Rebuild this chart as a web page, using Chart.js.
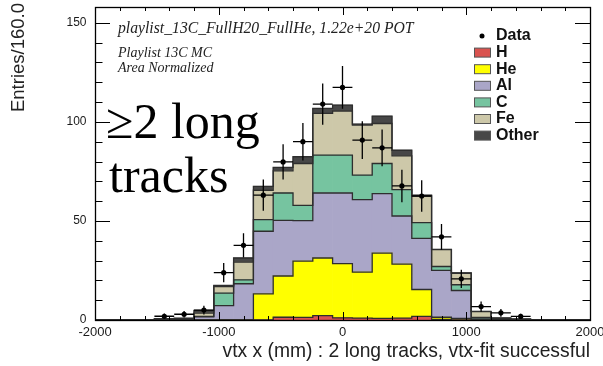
<!DOCTYPE html>
<html>
<head>
<meta charset="utf-8">
<script src="https://cdn.jsdelivr.net/npm/chart.js@4.4.0/dist/chart.umd.min.js"></script>
<style>
  html, body { margin: 0; padding: 0; background: #fff; }
  #wrap { width: 603px; height: 366px; }
</style>
</head>
<body>
<div id="wrap"><canvas id="vtxChart" width="603" height="366"></canvas></div>
<script>
'use strict';

// 25 bins of 160 mm from -2000 to 2000
const BIN_WIDTH = 160;
const BIN_CENTERS = [-1920, -1760, -1600, -1440, -1280, -1120, -960, -800, -640, -480, -320, -160,
  0, 160, 320, 480, 640, 800, 960, 1120, 1280, 1440, 1600, 1760, 1920];

// MC components, area normalized (stacked bottom to top)
const H_VALS     = [0, 0, 0, 0,   0,   0,   0,   0,    0.1,  1.4,  1.3,  2.2,  1.1,  0.9,  0.8,  0.9,  1.8,  0.3,  0.1,  0,   0,   0,   0, 0, 0];
const HE_VALS    = [0, 0, 0, 0,   0,   0,   0,   0,   13.1, 20.8, 28.4, 29.1, 27.4, 23.3, 33.0, 27.3, 13.6,  1.1,  0.7,  0.1, 0,   0,   0, 0, 0];
const AL_VALS    = [0, 0, 0, 0.2, 0.3, 1.6, 7.3, 18.3, 31.6, 28.1, 20.5, 32.8, 35.6, 36.6, 30.0, 24.3, 25.8, 23.6, 14.1,  0.4, 0.3, 0.1, 0, 0, 0];
const C_VALS     = [0, 0, 0, 0.1, 0.1, 0.2, 6.3,  2.0,  5.9, 13.8,  7.7, 19.1, 19.1, 12.3, 15.2, 13.3,  8.0,  2.0,  2.9,  0.8, 0.1, 0,   0, 0, 0];
const FE_VALS    = [0, 0, 0, 0.1, 0.2, 1.7, 3.3,  8.9, 14.8, 11.2, 21.1, 21.1, 22.3, 25.3, 20.2, 17.0, 13.4,  8.5,  5.8,  2.9, 0.4, 0.2, 0, 0, 0];
const OTHER_VALS = [0, 0, 0, 0.3, 0.3, 1.3, 0.6,  2.1,  2.0,  1.7,  3.4,  2.5,  3.0,  0.5,  3.7,  2.9,  0.4,  0.2,  0.2,  0.2, 0.2, 0.2, 0, 0, 0];

// Data points and their vertical errors
const DATA_VALS = [null, null, null, 1.9, 2.9, 5.0, 23.9, 37.7, 63.0, 79.8, 90.0, 109.0, 117.4,
  90.8, 86.9, 67.7, 62.6, 42.0, 20.8, 6.8, 3.6, 1.8, null, null, null];
const DATA_ERRS = [0, 0, 0, 1.4, 1.7, 2.2, 4.9, 6.1, 7.9, 8.9, 9.5, 10.4, 10.8,
  9.5, 9.3, 8.2, 7.9, 6.5, 4.6, 2.6, 1.9, 1.3, 0, 0, 0];

const X_TICKS = [-2000, -1000, 0, 1000, 2000];
const Y_TICKS = [0, 50, 100, 150];

const COMPONENT_NAMES = ['H', 'He', 'Al', 'C', 'Fe', 'Other'];
const COMPONENT_VALS = [H_VALS, HE_VALS, AL_VALS, C_VALS, FE_VALS, OTHER_VALS];
const COLORS = ['#d9534f', '#ffff00', '#aaa6c8', '#76c4a0', '#cdc8a9', '#474747'];

const SANS = "'Liberation Sans', Arial, Helvetica, sans-serif";
const SERIF = "'Liberation Serif', 'Times New Roman', serif";

const PLAYLIST_LINE = 'playlist_13C_FullH20_FullHe, 1.22e+20 POT';
const INFO_LINES = ['Playlist 13C MC', 'Area Normalized'];

const OUTLINE = '#2e2e2e';

// step outline on top of each stacked component, drawn just before the data points
const histOutline = {
  id: 'histOutline',
  beforeDatasetDraw(chart, args) {
    if (args.index !== 0) return;
    const { ctx } = chart;
    ctx.save();
    ctx.strokeStyle = OUTLINE;
    ctx.lineWidth = 1.3;
    chart.data.datasets.forEach((ds, i) => {
      const meta = chart.getDatasetMeta(i);
      if (meta.type !== 'bar') return;
      const bars = meta.data;
      ctx.beginPath();
      bars.forEach((b, k) => {
        const half = b.width / 2;
        if (k === 0) ctx.moveTo(b.x - half, b.base);
        ctx.lineTo(b.x - half, b.y);
        ctx.lineTo(b.x + half, b.y);
      });
      const last = bars[bars.length - 1];
      ctx.lineTo(last.x + last.width / 2, last.base);
      ctx.stroke();
    });

    // error bars for the data
    const { x, y } = chart.scales;
    ctx.strokeStyle = '#000';
    ctx.lineWidth = 1.3;
    ctx.beginPath();
    BIN_CENTERS.forEach((c, k) => {
      const v = DATA_VALS[k];
      if (v === null) return;
      const py = y.getPixelForValue(v);
      ctx.moveTo(x.getPixelForValue(c - BIN_WIDTH / 2), py);
      ctx.lineTo(x.getPixelForValue(c + BIN_WIDTH / 2), py);
      const px = x.getPixelForValue(c);
      ctx.moveTo(px, y.getPixelForValue(v + DATA_ERRS[k]));
      ctx.lineTo(px, y.getPixelForValue(Math.max(0, v - DATA_ERRS[k])));
    });
    ctx.stroke();
    ctx.restore();
  }
};

// frame with inward ticks on all four sides
const frameTicks = {
  id: 'frameTicks',
  afterDatasetsDraw(chart) {
    const { ctx, chartArea: a, scales: { x, y } } = chart;
    ctx.save();
    ctx.strokeStyle = '#000';
    ctx.lineWidth = 1;
    ctx.beginPath();
    for (let v = -2000; v <= 2000; v += 200) {
      const px = Math.round(x.getPixelForValue(v)) + 0.5;
      const len = v % 1000 === 0 ? 8 : 4;
      ctx.moveTo(px, a.bottom); ctx.lineTo(px, a.bottom - len);
      ctx.moveTo(px, a.top); ctx.lineTo(px, a.top + len);
    }
    for (let v = 0; v <= 150; v += 10) {
      const py = Math.round(y.getPixelForValue(v)) + 0.5;
      const len = v % 50 === 0 ? 15 : 7.5;
      ctx.moveTo(a.left, py); ctx.lineTo(a.left + len, py);
      ctx.moveTo(a.right, py); ctx.lineTo(a.right - len, py);
    }
    ctx.stroke();
    ctx.lineWidth = 1.3;
    ctx.strokeRect(Math.round(a.left) + 0.5, Math.round(a.top) + 0.5,
      Math.round(a.right - a.left), Math.round(a.bottom - a.top));
    ctx.restore();
  }
};

// titles, info text, legend and the selection label
const decorations = {
  id: 'decorations',
  afterDraw(chart) {
    const { ctx } = chart;
    ctx.save();

    // axis titles
    ctx.fillStyle = '#222';
    ctx.font = '18.5px ' + SANS;
    ctx.save();
    ctx.translate(19, 3);
    ctx.rotate(-Math.PI / 2);
    ctx.textAlign = 'right';
    ctx.textBaseline = 'middle';
    ctx.fillText('Entries/160.0', 0, 0);
    ctx.restore();

    ctx.font = '19.3px ' + SANS;
    ctx.textAlign = 'right';
    ctx.textBaseline = 'middle';
    ctx.fillText('vtx x (mm) : 2 long tracks, vtx-fit successful', 590, 352);

    // info lines
    ctx.fillStyle = '#222';
    ctx.textBaseline = 'alphabetic';
    ctx.textAlign = 'left';
    ctx.font = 'italic 15.7px ' + SERIF;
    ctx.fillText(PLAYLIST_LINE, 118, 33);
    ctx.font = 'italic 14px ' + SERIF;
    ctx.fillText(INFO_LINES[0], 118, 57);
    ctx.fillText(INFO_LINES[1], 118, 72);

    // legend
    const rowY = [36, 52.6, 69.2, 85.8, 102.4, 119, 135.6];
    ctx.textBaseline = 'middle';
    ctx.font = 'bold 16px ' + SANS;
    ctx.fillStyle = '#000';
    ctx.beginPath();
    ctx.arc(482, rowY[0], 2.5, 0, Math.PI * 2);
    ctx.fill();
    ctx.fillStyle = '#111';
    ctx.fillText('Data', 496, rowY[0]);
    COMPONENT_NAMES.forEach((name, i) => {
      const cy = rowY[i + 1];
      ctx.fillStyle = COLORS[i];
      ctx.fillRect(474.5, cy - 4.5, 16, 9);
      ctx.strokeStyle = '#555';
      ctx.lineWidth = 1;
      ctx.strokeRect(474.5, cy - 4.5, 16, 9);
      ctx.fillStyle = '#111';
      ctx.fillText(name, 496, cy);
    });

    // selection label
    ctx.fillStyle = '#000';
    ctx.font = '50px ' + SERIF;
    ctx.textBaseline = 'alphabetic';
    ctx.fillText('\u22652 long', 106, 138);
    ctx.fillText('tracks', 109, 192);

    ctx.restore();
  }
};

const barSets = COMPONENT_NAMES.map((name, i) => ({
  type: 'bar',
  label: name,
  data: BIN_CENTERS.map((c, k) => ({ x: c, y: COMPONENT_VALS[i][k] })),
  backgroundColor: COLORS[i],
  borderWidth: 0,
  barPercentage: 1,
  categoryPercentage: 1,
  stack: 'mc',
}));

const dataSet = {
  type: 'scatter',
  label: 'Data',
  data: BIN_CENTERS.map((c, k) => ({ x: c, y: DATA_VALS[k] })).filter(p => p.y !== null),
  pointRadius: 2.6,
  pointBackgroundColor: '#000',
  pointBorderWidth: 0,
  stack: 'data',
};

new Chart(document.getElementById('vtxChart'), {
  data: { datasets: [dataSet, ...barSets] },
  options: {
    responsive: false,
    animation: false,
    devicePixelRatio: 1,
    layout: { padding: { top: 7, right: 13, left: 0, bottom: 0 } },
    plugins: { legend: { display: false }, tooltip: { enabled: false } },
    scales: {
      x: {
        type: 'linear',
        min: -2000,
        max: 2000,
        offset: false,
        stacked: true,
        grid: { display: false, drawTicks: false },
        border: { display: false },
        afterBuildTicks: s => { s.ticks = X_TICKS.map(v => ({ value: v })); },
        afterFit: s => { s.height = 46; s.paddingLeft = 0; s.paddingRight = 0; },
        ticks: {
          padding: 5, color: '#1a1a1a', font: { size: 13, family: SANS }, maxRotation: 0,
          callback: v => String(v),
        },
      },
      y: {
        type: 'linear',
        min: 0,
        max: 158,
        stacked: true,
        grid: { display: false, drawTicks: false },
        border: { display: false },
        afterBuildTicks: s => { s.ticks = Y_TICKS.map(v => ({ value: v })); },
        afterFit: s => { s.width = 95; s.paddingTop = 0; s.paddingBottom = 0; },
        ticks: { padding: 8.5, color: '#1a1a1a', font: { size: 12, family: SANS }, callback: v => String(v) },
      },
    },
  },
  plugins: [histOutline, frameTicks, decorations],
});
</script>
</body>
</html>
